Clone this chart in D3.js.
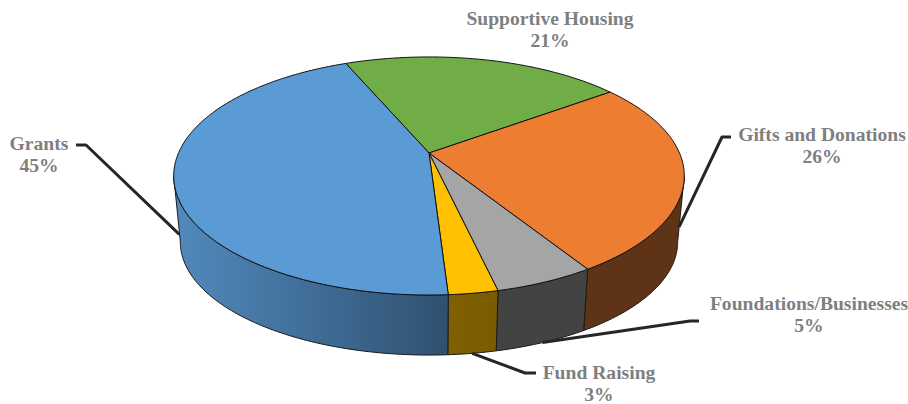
<!DOCTYPE html>
<html>
<head>
<meta charset="utf-8">
<script src="https://cdn.jsdelivr.net/npm/d3@7"></script>
<style>
    html, body { margin: 0; padding: 0; background: #fff; }
    svg { display: block; }
    text { font-family: "Liberation Serif", serif; font-weight: bold; font-size: 19.6px; fill: #7f7f7f; text-anchor: middle; }
</style>
</head>
<body>
<div id="chart"></div>
<script>
// values, the labels round them to whole percents
const categories = ["Supportive Housing", "Gifts and Donations", "Foundations/Businesses", "Fund Raising", "Grants"];
const shares = [21.3, 26.2, 5.3, 2.6, 44.6];

const topColors = ["#70ad47", "#ed7d31", "#a5a5a5", "#ffc000", "#5b9bd5"];
const sideColorsFrom = ["#43682b", "#5f3315", "#434343", "#806000", "#518abd"];
const sideColorsTo = ["#43682b", "#5f3315", "#434343", "#7a5b00", "#2f5170"];

// label centre, elbow of the leader, where it stops between top and bottom rim
const labelSpots = [
    { x: 550, y: 25, leader: false },
    { x: 822, y: 141, leader: true, ex: 731, ey: 137, kx: 722, t: 0.78 },
    { x: 809, y: 310, leader: true, ex: 699, ey: 321, kx: 690, t: 1 },
    { x: 599, y: 379, leader: true, ex: 536, ey: 373, kx: 525, t: 1 },
    { x: 39, y: 150, leader: true, ex: 76, ey: 145, kx: 86, t: 0.82 }
];

const width = 908;
const height = 404;
const rad = Math.PI / 180;

const svg = d3.select("#chart").append("svg")
    .attr("width", width)
    .attr("height", height)
    .attr("viewBox", `0 0 ${width} ${height}`);

// perspective disc: k pushes the far edge back, so the apex sits above the ellipse centre
const k = 0.193;
const cx = 429;
const topFace = { a: 250.5, b: 114.6, cy: 153 };
const bottomFace = { a: 244, b: 109, cy: 220 };

function rim(face, angle) {
    const u = Math.sin(angle);
    const v = -Math.cos(angle);
    const w = 1 - k * v;
    return [cx + face.a * u / w, face.cy + face.b * v / w];
}

function rimPoints(face, a0, a1) {
    const n = Math.max(2, Math.ceil((a1 - a0) / rad));
    return d3.range(n + 1).map(i => rim(face, a0 + (a1 - a0) * i / n));
}

const pie = d3.pie()
    .sort(null)
    .startAngle(-23 * rad)
    .endAngle(337 * rad);
const arcs = pie(shares);

const line = d3.line();
const defs = svg.append("defs");

arcs.forEach((d, i) => {
    const grad = defs.append("linearGradient").attr("id", `side-${i}`);
    grad.append("stop").attr("offset", "0%").attr("stop-color", sideColorsFrom[i]);
    grad.append("stop").attr("offset", "100%").attr("stop-color", sideColorsTo[i]);
});

// only the front part of the wall shows, between the two tangent points of the rim
const visibleFrom = 101 * rad;
const visibleTo = 259 * rad;

svg.append("g").selectAll("path")
    .data(arcs.filter(d => d.endAngle > visibleFrom && d.startAngle < visibleTo))
    .join("path")
    .attr("d", d => {
        const a0 = Math.max(d.startAngle, visibleFrom);
        const a1 = Math.min(d.endAngle, visibleTo);
        return line(rimPoints(topFace, a0, a1).concat(rimPoints(bottomFace, a0, a1).reverse())) + "Z";
    })
    .attr("fill", d => `url(#side-${d.index})`)
    .attr("stroke", "#1a1a1a")
    .attr("stroke-width", 1)
    .attr("stroke-linejoin", "round");

svg.append("g").selectAll("path")
    .data(arcs)
    .join("path")
    .attr("d", d => line([[cx, topFace.cy]].concat(rimPoints(topFace, d.startAngle, d.endAngle))) + "Z")
    .attr("fill", d => topColors[d.index])
    .attr("stroke", "#111")
    .attr("stroke-width", 1)
    .attr("stroke-linejoin", "round");

// leader lines
svg.append("g").selectAll("path")
    .data(arcs.filter(d => labelSpots[d.index].leader))
    .join("path")
    .attr("d", d => {
        const s = labelSpots[d.index];
        const mid = (d.startAngle + d.endAngle) / 2;
        const end = d3.interpolate(rim(topFace, mid), rim(bottomFace, mid))(s.t);
        return line([[s.ex, s.ey], [s.kx, s.ey], end]);
    })
    .attr("fill", "none")
    .attr("stroke", "#262626")
    .attr("stroke-width", 3)
    .attr("stroke-linejoin", "round");

// labels
const labels = svg.append("g").selectAll("text")
    .data(arcs)
    .join("text")
    .attr("x", d => labelSpots[d.index].x)
    .attr("y", d => labelSpots[d.index].y);

labels.append("tspan").text(d => categories[d.index]);
labels.append("tspan")
    .attr("x", d => labelSpots[d.index].x)
    .attr("dy", 22)
    .text(d => `${Math.round(d.data)}%`);
</script>
</body>
</html>
